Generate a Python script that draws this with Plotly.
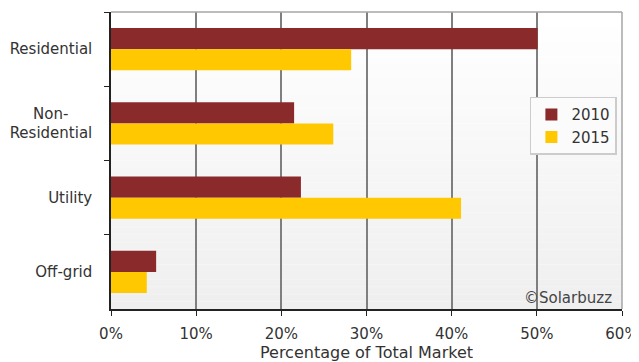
import plotly.graph_objects as go

categories = ["Residential", "Non-\u00a0\u00a0\u00a0\u00a0\u00a0<br>Residential", "Utility", "Off-grid"]
share_2010 = [50.1, 21.5, 22.3, 5.3]
share_2015 = [28.2, 26.1, 41.1, 4.2]
x_ticks = [0, 10, 20, 30, 40, 50, 60]
x_tick_labels = ["0%", "10%", "20%", "30%", "40%", "50%", "60%"]

FONT = "DejaVu Sans"
TXT = "#333333"

fig = go.Figure()
fig.add_trace(go.Bar(y=categories, x=share_2010, name="2010", orientation="h",
                     marker=dict(color="#8a2a2b", line=dict(width=0))))
fig.add_trace(go.Bar(y=categories, x=share_2015, name="2015", orientation="h",
                     marker=dict(color="#ffc800", line=dict(width=0))))

# gradient background (white at top to light grey at bottom)
shapes = []
n = 40
for i in range(n):
    t = i / (n - 1)
    v = int(round(255 - t * 16))
    shapes.append(dict(type="rect", xref="paper", yref="paper",
                       x0=0, x1=1, y0=1 - (i + 1) / n, y1=1 - i / n,
                       fillcolor=f"rgb({v},{v},{v})", line=dict(width=0),
                       layer="below"))
# top and right border
shapes.append(dict(type="line", xref="paper", yref="paper", x0=0, x1=1, y0=1, y1=1,
                   line=dict(color="#a6a6a6", width=1.5)))
shapes.append(dict(type="line", xref="paper", yref="paper", x0=1, x1=1, y0=0, y1=1,
                   line=dict(color="#a6a6a6", width=1.5)))

# page body has an 8px margin, so the figure is sized to fit the 639x362 window
fig.update_layout(
    width=631, height=354,
    margin=dict(l=103, r=17, t=4, b=53, autoexpand=False),
    paper_bgcolor="white", plot_bgcolor="rgba(0,0,0,0)",
    barmode="group", bargap=0.43, bargroupgap=0.0,
    font=dict(family=FONT, size=15, color=TXT),
    shapes=shapes,
    showlegend=True,
    legend=dict(x=0.99, xanchor="right", y=0.715, yanchor="top",
                bgcolor="#fbfbfb", bordercolor="#cccccc", borderwidth=1.5,
                font=dict(family=FONT, size=15, color=TXT),
                traceorder="normal", itemwidth=30,
                tracegroupgap=0),
    xaxis=dict(range=[0, 60], tickvals=x_ticks, ticktext=x_tick_labels,
               showgrid=True, gridcolor="#7f7f7f", gridwidth=1.5,
               showline=True, linecolor="#222222", linewidth=1.5,
               ticks="outside", ticklen=5, tickcolor="#222222",
               ticklabelstandoff=5, automargin=False,
               tickfont=dict(family=FONT, size=15, color=TXT),
               title=dict(text="Percentage of Total Market", standoff=13,
                          font=dict(family=FONT, size=16, color=TXT)),
               zeroline=False, fixedrange=True),
    yaxis=dict(autorange="reversed", showgrid=False,
               showline=True, linecolor="#222222", linewidth=1.5,
               ticks="outside", ticklen=5, tickcolor="#222222",
               tickson="boundaries", ticklabelstandoff=14, automargin=False,
               tickfont=dict(family=FONT, size=15, color=TXT),
               fixedrange=True),
    annotations=[dict(text="©Solarbuzz", xref="paper", yref="paper",
                      x=0.985, y=0.0, xanchor="right", yanchor="bottom",
                      showarrow=False,
                      font=dict(family=FONT, size=15, color="#444444"))],
)

fig.write_html("out.html")
